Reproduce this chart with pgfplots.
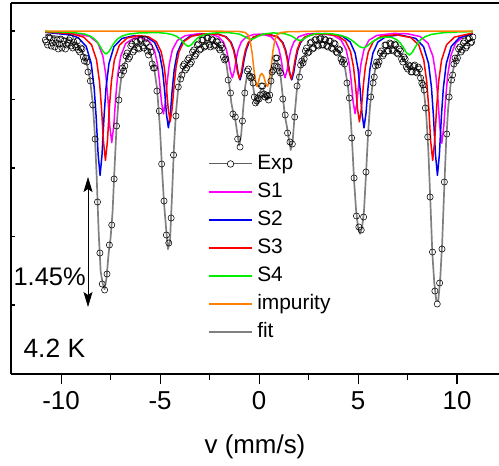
\documentclass[border=0pt]{standalone}
\usepackage{pgfplots}
\pgfplotsset{compat=1.18}
\usepackage{fontspec}
\setmainfont{Liberation Sans}
\usetikzlibrary{arrows.meta}

\definecolor{cS1}{RGB}{255,0,255}
\definecolor{cS2}{RGB}{0,0,240}
\definecolor{cS3}{RGB}{255,0,0}
\definecolor{cS4}{RGB}{0,240,0}
\definecolor{cImp}{RGB}{255,128,0}
\definecolor{cFit}{RGB}{128,128,128}

\begin{document}
\begin{tikzpicture}
\useasboundingbox (-11bp,-92bp) rectangle (488bp,374bp);
\begin{axis}[
    at={(0,0)}, anchor=south west,
    scale only axis, width=488bp, height=371bp,
    xmin=-12.53, xmax=12.12, ymin=-343, ymax=28,
    axis x line*=box, axis y line*=left,
    axis line style={line width=1.1pt, -},
    xtick={-10,-5,0,5,10},
    minor xtick={-7.5,-2.5,2.5,7.5},
    ytick=\empty,
    xtick pos=left,
    xtick align=outside,
    major tick length=10bp, minor tick length=6bp,
    tick style={line width=1.1pt, black},
    ticklabel style={font=\fontsize{26}{30}\selectfont},
    xticklabel style={yshift=-4bp},
    /pgf/number format/assume math mode=true,
    xlabel={v (mm/s)},
    xlabel style={font=\fontsize{26}{30}\selectfont, yshift=-18bp},
    legend cell align=left,
    legend style={draw=none, fill=none, at={(axis cs:-2.6,-122)}, anchor=north west,
        font=\fontsize{21}{25}\selectfont, row sep=6.5bp, column sep=4bp, inner sep=0pt,
        nodes={inner sep=1bp, text height=15bp, text depth=4.5bp}},
]
% experimental spectrum (depth below baseline, arbitrary units)
\addplot[only marks, mark=o, mark size=3.1bp, mark options={line width=0.55pt, black},
  legend image code/.code={\draw[cFit!75!black, line width=0.9pt] (0bp,0bp) -- (43bp,0bp);
     \draw[black, line width=0.6pt, fill=white] (22bp,0bp) circle (3.3bp);}]
coordinates {
(-10.80,-9) (-10.68,-14) (-10.56,-7) (-10.44,-12) (-10.32,-16) (-10.20,-9) (-10.08,-13) (-9.96,-17)
(-9.84,-10) (-9.72,-14) (-9.60,-9) (-9.48,-15) (-9.36,-11) (-9.24,-16) (-9.12,-19) (-9.00,-17)
(-8.88,-26) (-8.76,-27) (-8.64,-41) (-8.52,-50) (-8.40,-74) (-8.28,-108) (-8.16,-171) (-8.04,-222)
(-7.92,-253) (-7.80,-259) (-7.68,-243) (-7.56,-214) (-7.44,-194) (-7.32,-148) (-7.20,-95) (-7.08,-69)
(-6.96,-44) (-6.84,-40) (-6.72,-25) (-6.60,-28) (-6.48,-15) (-6.36,-21) (-6.24,-10) (-6.12,-17)
(-6.00,-9) (-5.88,-15) (-5.76,-8) (-5.64,-20) (-5.52,-16) (-5.40,-33) (-5.28,-37) (-5.16,-60)
(-5.04,-80) (-4.92,-133) (-4.80,-170) (-4.68,-204) (-4.56,-212) (-4.44,-187) (-4.32,-124) (-4.20,-85)
(-4.08,-56) (-3.96,-48) (-3.84,-35) (-3.72,-39) (-3.60,-29) (-3.48,-33) (-3.36,-21) (-3.24,-25)
(-3.12,-14) (-3.00,-19) (-2.88,-9) (-2.76,-16) (-2.64,-7) (-2.52,-14) (-2.40,-8) (-2.28,-15)
(-2.16,-10) (-2.04,-17) (-1.92,-14) (-1.80,-26) (-1.68,-28) (-1.56,-49) (-1.44,-62) (-1.32,-83)
(-1.20,-86) (-1.08,-108) (-0.96,-116) (-0.84,-90) (-0.72,-62) (-0.60,-40) (-0.48,-45) (-0.36,-46)
(-0.24,-66) (-0.12,-70) (0.00,-68) (0.12,-55) (0.24,-63) (0.36,-64) (0.48,-69) (0.60,-50)
(0.72,-39) (0.84,-27) (0.96,-36) (1.08,-42) (1.20,-68) (1.32,-84) (1.44,-102) (1.56,-111)
(1.68,-113) (1.80,-86) (1.92,-55) (2.04,-46) (2.16,-30) (2.28,-28) (2.40,-17) (2.52,-21)
(2.64,-11) (2.76,-17) (2.88,-8) (3.00,-15) (3.12,-7) (3.24,-14) (3.36,-9) (3.48,-16)
(3.60,-10) (3.72,-18) (3.84,-13) (3.96,-22) (4.08,-19) (4.20,-31) (4.32,-33) (4.44,-52)
(4.56,-67) (4.68,-107) (4.80,-147) (4.92,-185) (5.04,-196) (5.16,-199) (5.28,-186) (5.40,-141)
(5.52,-102) (5.64,-66) (5.76,-52) (5.88,-35) (6.00,-34) (6.12,-22) (6.24,-25) (6.36,-14)
(6.48,-20) (6.60,-12) (6.72,-19) (6.84,-13) (6.96,-22) (7.08,-18) (7.20,-28) (7.32,-26)
(7.44,-36) (7.56,-34) (7.68,-41) (7.80,-35) (7.92,-41) (8.04,-36) (8.16,-47) (8.28,-54)
(8.40,-77) (8.52,-106) (8.64,-166) (8.76,-221) (8.88,-260) (9.00,-273) (9.12,-252) (9.24,-218)
(9.36,-151) (9.48,-103) (9.60,-66) (9.72,-49) (9.84,-33) (9.96,-30) (10.08,-18) (10.20,-21)
(10.32,-12) (10.44,-17) (10.56,-8) (10.68,-12) (10.80,-6)
(-10.74,-11) (-10.62,-6) (-10.50,-15) (-10.38,-9) (-10.26,-12) (-10.14,-18) (-10.02,-8) (-9.90,-13)
(-9.78,-18) (-9.66,-12) (-9.54,-7) (-9.42,-17) (-9.30,-14) (-9.18,-10) (-9.06,-21) (-8.94,-18)
(-8.82,-30) (-8.70,-31)
(-6.90,-37) (-6.78,-35) (-6.66,-22) (-6.54,-26) (-6.42,-13) (-6.30,-19) (-6.18,-11) (-6.06,-18)
(-5.94,-8) (-5.82,-17) (-5.70,-12) (-5.58,-24) (-5.46,-21) (-5.34,-37)
(-3.90,-44) (-3.78,-33) (-3.66,-37) (-3.54,-27) (-3.42,-31) (-3.30,-19) (-3.18,-23) (-3.06,-13)
(-2.94,-18) (-2.82,-9) (-2.70,-15) (-2.58,-7) (-2.46,-16) (-2.34,-9) (-2.22,-14) (-2.10,-11)
(-1.98,-19) (-1.86,-17) (-1.74,-29)
(-0.54,-38) (-0.42,-47) (-0.30,-52) (-0.18,-72) (-0.06,-67) (0.06,-64) (0.18,-55) (0.30,-66)
(0.42,-65) (0.54,-64) (0.66,-41) (0.78,-35) (0.90,-27) (1.02,-40)
(2.10,-34) (2.22,-32) (2.34,-20) (2.46,-22) (2.58,-12) (2.70,-18) (2.82,-9) (2.94,-14)
(3.06,-8) (3.18,-14) (3.30,-8) (3.42,-15) (3.54,-10) (3.66,-17) (3.78,-12) (3.90,-21)
(4.02,-18) (4.14,-28) (4.26,-29)
(5.82,-46) (5.94,-31) (6.06,-31) (6.18,-20) (6.30,-23) (6.42,-14) (6.54,-20) (6.66,-13)
(6.78,-20) (6.90,-14) (7.02,-23) (7.14,-20) (7.26,-31) (7.38,-28) (7.50,-38) (7.62,-35)
(7.74,-41) (7.86,-34) (7.98,-42) (8.10,-38) (8.22,-52) (8.34,-59)
(9.78,-44) (9.90,-27) (10.02,-27) (10.14,-16) (10.26,-19) (10.38,-10) (10.50,-15) (10.62,-7)
(10.74,-11)
};
\addlegendentry{Exp}
% S1
\addplot[cS1, line width=1.5pt, line join=round,
  legend image code/.code={\draw[cS1, line width=1.5pt] (0bp,0bp) -- (43bp,0bp);}] coordinates {
(-10.8,-0.8) (-9.5,-1.8) (-8.54,-5.5) (-8.14,-12.1) (-7.89,-25.0) (-7.74,-43.8) (-7.64,-66.0)
(-7.54,-95.1) (-7.44,-111.6) (-7.34,-95.2) (-7.24,-66.1) (-7.14,-44.0) (-6.99,-25.3) (-6.74,-12.5)
(-6.34,-7.3) (-5.93,-6.6) (-5.53,-10.5) (-5.28,-19.6) (-5.13,-33.2) (-5.03,-49.5) (-4.93,-70.9)
(-4.83,-83.0) (-4.73,-70.8) (-4.63,-49.3) (-4.53,-32.8) (-4.38,-18.9) (-4.13,-9.5) (-3.73,-4.7)
(-3.0,-2.6) (-2.45,-3.1) (-2.05,-5.7) (-1.8,-10.9) (-1.65,-18.6) (-1.55,-27.8) (-1.45,-39.9)
(-1.35,-46.7) (-1.25,-39.9) (-1.15,-27.8) (-1.05,-18.6) (-0.9,-11.0) (-0.65,-5.8) (-0.25,-3.4)
(0.0,-3.2) (0.21,-3.4) (0.61,-5.8) (0.86,-11.0) (1.01,-18.6) (1.11,-27.8) (1.21,-39.9)
(1.31,-46.7) (1.41,-39.9) (1.51,-27.8) (1.61,-18.6) (1.76,-11.0) (2.01,-5.6) (2.41,-3.0)
(3.0,-2.4) (3.75,-4.4) (4.15,-9.2) (4.4,-18.7) (4.55,-32.6) (4.65,-49.0) (4.75,-70.5)
(4.85,-82.6) (4.95,-70.5) (5.05,-49.0) (5.15,-32.6) (5.3,-18.7) (5.55,-9.2) (5.95,-4.4)
(6.8,-2.4) (7.5,-2.8) (8.13,-5.5) (8.53,-12.1) (8.78,-25.1) (8.93,-44.0) (9.03,-66.4)
(9.13,-95.7) (9.23,-112.3) (9.33,-95.7) (9.43,-66.4) (9.53,-44.0) (9.68,-25.0) (9.93,-12.0)
(10.33,-5.3) (10.8,-2.7)
};
\addlegendentry{S1}
% S2
\addplot[cS2, line width=1.5pt, line join=round,
  legend image code/.code={\draw[cS2, line width=1.5pt] (0bp,0bp) -- (43bp,0bp);}] coordinates {
(-10.8,-1.3) (-9.5,-4.0) (-9.13,-6.8) (-8.73,-15.4) (-8.48,-32.3) (-8.33,-56.6) (-8.23,-85.4)
(-8.13,-123.1) (-8.03,-144.4) (-7.93,-123.1) (-7.83,-85.5) (-7.73,-56.7) (-7.58,-32.4) (-7.33,-15.7)
(-6.93,-7.5) (-6.3,-4.6) (-5.68,-6.0) (-5.28,-11.3) (-5.03,-22.3) (-4.88,-38.4) (-4.78,-57.5)
(-4.68,-82.6) (-4.58,-96.8) (-4.48,-82.5) (-4.38,-57.3) (-4.28,-38.0) (-4.13,-21.9) (-3.88,-10.9)
(-3.48,-5.2) (-2.8,-2.8) (-2.06,-3.2) (-1.66,-5.9) (-1.41,-11.4) (-1.26,-19.5) (-1.16,-29.1)
(-1.06,-41.7) (-0.96,-48.8) (-0.86,-41.7) (-0.76,-29.1) (-0.66,-19.6) (-0.51,-11.5) (-0.26,-6.1)
(0.14,-3.6) (0.35,-3.4) (0.55,-3.6) (0.95,-6.1) (1.2,-11.5) (1.35,-19.6) (1.45,-29.2)
(1.55,-41.8) (1.65,-48.9) (1.75,-41.8) (1.85,-29.2) (1.95,-19.5) (2.1,-11.4) (2.35,-5.9)
(2.75,-3.2) (3.4,-2.6) (4.2,-5.1) (4.6,-10.9) (4.85,-22.0) (5.0,-38.1) (5.1,-57.4)
(5.2,-82.6) (5.3,-96.8) (5.4,-82.6) (5.5,-57.4) (5.6,-38.3) (5.75,-22.2) (6.0,-11.1)
(6.4,-5.7) (7.1,-3.9) (7.91,-7.4) (8.31,-15.7) (8.56,-32.4) (8.71,-56.7) (8.81,-85.5)
(8.91,-123.2) (9.01,-144.4) (9.11,-123.1) (9.21,-85.4) (9.31,-56.6) (9.46,-32.3) (9.71,-15.4)
(10.11,-6.8) (10.8,-2.7)
};
\addlegendentry{S2}
% S3
\addplot[cS3, line width=1.5pt, line join=round,
  legend image code/.code={\draw[cS3, line width=1.5pt] (0bp,0bp) -- (43bp,0bp);}] coordinates {
(-10.8,-0.9) (-9.5,-2.6) (-8.86,-6.1) (-8.46,-13.8) (-8.21,-28.9) (-8.06,-50.6) (-7.96,-76.5)
(-7.86,-110.3) (-7.76,-129.4) (-7.66,-110.3) (-7.56,-76.5) (-7.46,-50.7) (-7.31,-29.1) (-7.06,-14.3)
(-6.66,-7.0) (-6.1,-4.6) (-5.59,-5.8) (-5.19,-10.7) (-4.94,-20.9) (-4.79,-36.0) (-4.69,-54.0)
(-4.59,-77.5) (-4.49,-90.8) (-4.39,-77.4) (-4.29,-53.8) (-4.19,-35.7) (-4.04,-20.5) (-3.79,-10.3)
(-3.39,-5.0) (-2.75,-2.8) (-2.09,-3.2) (-1.69,-5.8) (-1.44,-11.2) (-1.29,-19.1) (-1.19,-28.5)
(-1.09,-40.8) (-0.99,-47.8) (-0.89,-40.8) (-0.79,-28.5) (-0.69,-19.2) (-0.54,-11.3) (-0.29,-6.0)
(0.11,-3.5) (0.32,-3.4) (0.52,-3.5) (0.92,-6.0) (1.17,-11.3) (1.32,-19.2) (1.42,-28.5)
(1.52,-40.8) (1.62,-47.8) (1.72,-40.8) (1.82,-28.6) (1.92,-19.1) (2.07,-11.2) (2.32,-5.8)
(2.72,-3.3) (3.35,-2.8) (3.97,-4.9) (4.37,-10.2) (4.62,-20.6) (4.77,-35.8) (4.87,-53.9)
(4.97,-77.5) (5.07,-90.8) (5.17,-77.5) (5.27,-53.9) (5.37,-35.9) (5.52,-20.8) (5.77,-10.4)
(6.17,-5.3) (6.9,-3.7) (7.67,-6.6) (8.07,-14.1) (8.32,-29.1) (8.47,-50.8) (8.57,-76.5)
(8.67,-110.3) (8.77,-129.4) (8.87,-110.3) (8.97,-76.5) (9.07,-50.7) (9.22,-29.0) (9.47,-13.8)
(9.87,-6.1) (10.8,-2.0)
};
\addlegendentry{S3}
% S4
\addplot[cS4, line width=1.5pt, line join=round,
  legend image code/.code={\draw[cS4, line width=1.5pt] (0bp,0bp) -- (43bp,0bp);}] coordinates {
(-10.8,-0.5) (-9.5,-1.3) (-8.83,-3.0) (-8.53,-5.1) (-8.33,-7.7) (-8.18,-10.8) (-8.03,-15.3)
(-7.88,-20.5) (-7.73,-23.1) (-7.58,-20.5) (-7.43,-15.3) (-7.28,-10.9) (-7.13,-7.7) (-6.93,-5.2)
(-6.63,-3.2) (-6.0,-1.8) (-5.07,-1.7) (-4.67,-2.4) (-4.37,-3.7) (-4.17,-5.3) (-4.02,-7.4)
(-3.87,-10.3) (-3.72,-13.7) (-3.57,-15.4) (-3.42,-13.7) (-3.27,-10.4) (-3.12,-7.4) (-2.97,-5.3)
(-2.77,-3.7) (-2.47,-2.4) (-2.0,-1.7) (-1.5,-1.7) (-1.0,-3.1) (-0.7,-5.8) (-0.55,-7.6)
(-0.4,-8.5) (-0.25,-7.5) (-0.1,-5.8) (0.2,-3.2) (0.7,-1.9) (1.27,-2.6) (1.62,-4.8)
(1.77,-6.6) (1.92,-8.6) (2.07,-9.6) (2.22,-8.5) (2.37,-6.5) (2.52,-4.8) (2.87,-2.6)
(3.6,-2.6) (4.14,-4.4) (4.44,-6.5) (4.64,-8.7) (4.79,-10.9) (4.94,-13.5) (5.09,-15.8)
(5.24,-16.8) (5.39,-16.0) (5.54,-13.8) (5.69,-11.3) (5.84,-9.3) (6.04,-7.3) (6.34,-6.0)
(6.6,-6.1) (6.79,-7.1) (6.99,-9.3) (7.14,-12.2) (7.29,-16.5) (7.44,-21.6) (7.59,-24.1)
(7.74,-21.4) (7.89,-16.1) (8.04,-11.6) (8.19,-8.3) (8.39,-5.7) (8.69,-3.5) (9.3,-1.7)
(10.0,-1.0) (10.8,-0.6)
};
\addlegendentry{S4}
% impurity
\addplot[cImp, line width=1.5pt, line join=round,
  legend image code/.code={\draw[cImp, line width=1.5pt] (0bp,0bp) -- (43bp,0bp);}] coordinates {
(-10.8,0) (-2.0,-0.2) (-1.0,-0.5) (-0.7,-1.5) (-0.55,-4) (-0.45,-10) (-0.35,-22) (-0.25,-40)
(-0.15,-53) (-0.1,-55.5) (-0.03,-51) (0.05,-44.5) (0.14,-42.5) (0.23,-45) (0.33,-52) (0.42,-55.5)
(0.5,-52) (0.6,-38) (0.7,-20) (0.8,-9) (0.9,-4) (1.1,-1.5) (1.5,-0.7) (3.0,-0.2) (10.8,0)
};
\addlegendentry{impurity}
% fit
\addplot[cFit, line width=1.7pt, line join=round,
  legend image code/.code={\draw[cFit, line width=1.5pt] (0bp,0bp) -- (43bp,0bp);}] coordinates {
(-10.8,-4.0) (-10.4,-4.8) (-10.0,-6.2) (-9.6,-8.5) (-9.3,-12.0) (-9.1,-15.9) (-8.9,-21.9)
(-8.7,-32.6) (-8.55,-46.7) (-8.4,-72.3) (-8.3,-101.7) (-8.2,-146.7) (-8.1,-202.4) (-8.0,-240.7)
(-7.9,-252.2) (-7.8,-258.2) (-7.7,-246.2) (-7.6,-222.4) (-7.5,-207) (-7.4,-181.2) (-7.3,-136.8)
(-7.2,-96.6) (-7.1,-69.3) (-6.95,-45.2) (-6.8,-33) (-6.6,-23) (-6.4,-17) (-6.1,-13)
(-5.8,-13.5) (-5.5,-22) (-5.3,-37) (-5.15,-58) (-5.0,-99) (-4.9,-138.6) (-4.8,-172)
(-4.7,-196.7) (-4.6,-218.1) (-4.5,-210.7) (-4.4,-166.1) (-4.3,-116.8) (-4.2,-82.1) (-4.1,-60.7)
(-3.95,-43.9) (-3.8,-36.7) (-3.65,-33.5) (-3.5,-29.8) (-3.3,-22.6) (-3.1,-16.7) (-2.9,-13.5)
(-2.6,-11.3) (-2.3,-11.7) (-2.0,-15.3) (-1.8,-22.2) (-1.65,-33.2) (-1.5,-54.2) (-1.4,-71.8)
(-1.3,-82.4) (-1.2,-88.8) (-1.1,-102.2) (-1.0,-114.4) (-0.9,-103.3) (-0.8,-77.1) (-0.7,-55.6)
(-0.6,-43.6) (-0.5,-40.7) (-0.4,-43.8) (-0.3,-55.7) (-0.2,-68.2) (-0.1,-73.9) (0.0,-65.2)
(0.1,-57.7) (0.2,-57.8) (0.3,-63.4) (0.4,-69.0) (0.5,-66.1) (0.6,-53.5) (0.7,-37.6)
(0.8,-30) (0.9,-30) (1.0,-34.4) (1.1,-47.3) (1.2,-65.7) (1.3,-84) (1.4,-95)
(1.5,-107.1) (1.6,-119) (1.7,-109.5) (1.8,-83.4) (1.9,-60.8) (2.0,-46) (2.15,-32.8)
(2.3,-24.3) (2.5,-17.3) (2.8,-12.3) (3.1,-10.8) (3.4,-11.3) (3.7,-14) (4.0,-19.8)
(4.2,-27.6) (4.35,-38.1) (4.5,-56.9) (4.6,-78.4) (4.7,-110.6) (4.8,-149.6) (4.9,-179.1)
(5.0,-196.3) (5.1,-202.9) (5.2,-196.8) (5.3,-180.2) (5.4,-144.4) (5.5,-105) (5.6,-76)
(5.75,-50) (5.9,-35.8) (6.1,-25.9) (6.35,-18.5) (6.6,-16) (6.85,-16.5) (7.1,-21.6)
(7.35,-30.1) (7.6,-38.2) (7.85,-37.2) (8.05,-39) (8.2,-46.7) (8.35,-64.1) (8.45,-85.1)
(8.55,-119.1) (8.65,-168.9) (8.75,-221.2) (8.85,-251.8) (8.95,-269.3) (9.05,-269.9) (9.15,-248.3)
(9.25,-211.9) (9.35,-159) (9.45,-110.7) (9.55,-77.7) (9.7,-48.9) (9.9,-30) (10.1,-20.5)
(10.35,-13.9) (10.6,-10.2) (10.8,-8.2)
};
\addlegendentry{fit}

% short inward ticks on the left axis (no labels)
\pgfplotsinvokeforeach{0,-68.5,-137,-205.5,-274}{
  \draw[line width=1.1pt] (axis cs:-12.53,#1) -- (axis cs:-12.33,#1);
}
% 1.45 % absorption scale bar
\draw[line width=0.8pt, {Stealth[length=15bp,width=9bp,inset=3bp]}-{Stealth[length=15bp,width=9bp,inset=3bp]}]
  (axis cs:-8.64,-146) -- (axis cs:-8.64,-276);
\node[font=\fontsize{25.5}{30}\selectfont] at (axis cs:-10.58,-246) {1.45\%};
\node[font=\fontsize{26.5}{30}\selectfont] at (axis cs:-10.34,-317.3) {4.2 K};
\end{axis}
\end{tikzpicture}
\end{document}
